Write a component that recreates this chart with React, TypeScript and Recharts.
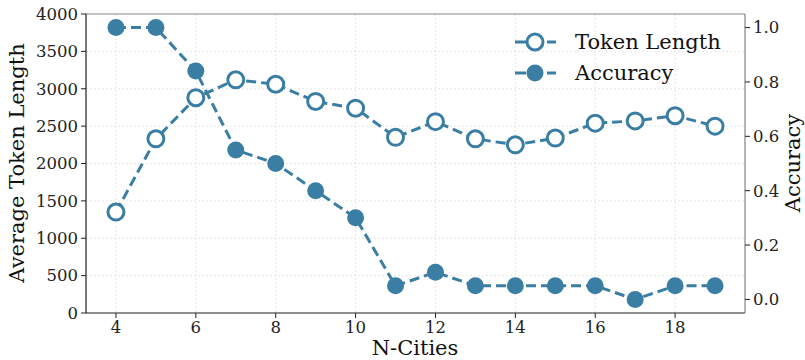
import React from 'react';
import { LineChart, Line, XAxis, YAxis, CartesianGrid, Legend, ReferenceLine } from 'recharts';

const nCities = [4, 5, 6, 7, 8, 9, 10, 11, 12, 13, 14, 15, 16, 17, 18, 19];
const tokenLength = [1350, 2330, 2880, 3120, 3060, 2830, 2740, 2350, 2560, 2330, 2250, 2340, 2540, 2570, 2640, 2500];
const accuracy = [1.0, 1.0, 0.84, 0.55, 0.5, 0.4, 0.3, 0.05, 0.1, 0.05, 0.05, 0.05, 0.05, 0.0, 0.05, 0.05];
const xTicks = [4, 6, 8, 10, 12, 14, 16, 18];
const leftTicks = [0, 500, 1000, 1500, 2000, 2500, 3000, 3500, 4000];
const rightTicks = [0, 0.2, 0.4, 0.6, 0.8, 1.0];

const data = nCities.map((n, i) => ({ n, tokens: tokenLength[i], acc: accuracy[i] }));

const COLOR = '#3b7ea4';
const FONT = 'DejaVu Serif';

const OpenDot = (props: any) => {
  const { cx, cy } = props;
  if (cx == null || cy == null) return null;
  return <circle cx={cx} cy={cy} r={8} fill="#ffffff" stroke={COLOR} strokeWidth={3} />;
};
const FilledDot = (props: any) => {
  const { cx, cy } = props;
  if (cx == null || cy == null) return null;
  return <circle cx={cx} cy={cy} r={8.5} fill={COLOR} stroke="none" />;
};

const legendItems = [
  { label: 'Token Length', filled: false },
  { label: 'Accuracy', filled: true },
];

const LegendContent = () => (
  <div style={{ fontFamily: FONT, fontSize: 21, color: '#111' }}>
    {legendItems.map((it) => (
      <div key={it.label} style={{ display: 'flex', alignItems: 'center', height: 31 }}>
        <svg width={44} height={22} style={{ marginRight: 17 }}>
          <line x1={1} y1={11} x2={42} y2={11} stroke={COLOR} strokeWidth={3} strokeDasharray="11 5" />
          {it.filled ? (
            <circle cx={21} cy={11} r={8.5} fill={COLOR} />
          ) : (
            <circle cx={21} cy={11} r={8} fill="#fff" stroke={COLOR} strokeWidth={3} />
          )}
        </svg>
        <span>{it.label}</span>
      </div>
    ))}
  </div>
);

const tickStyle = { fontFamily: FONT, fontSize: 16.5, fill: '#222' };

export default function App() {
  return (
    <div style={{ position: 'absolute', left: 0, top: 0, width: 805, height: 360, background: '#fff' }}>
      <LineChart width={805} height={360} data={data} margin={{ top: 14, right: 0, bottom: 0, left: 0 }}>
        <CartesianGrid yAxisId="left" stroke="#e2e2e2" strokeDasharray="2 2" strokeWidth={0.8} horizontal vertical />
        <XAxis
          dataKey="n"
          type="number"
          domain={[3.25, 19.75]}
          ticks={xTicks}
          allowDataOverflow
          tick={tickStyle}
          tickLine={{ stroke: '#222' }}
          axisLine={{ stroke: '#222', strokeWidth: 1.2 }}
          tickSize={5}
          tickMargin={3}
          height={47}
          label={{
            content: () => (
              <text x={415} y={355} textAnchor="middle" fontFamily={FONT} fontSize={21} fill="#111">N-Cities</text>
            ),
          }}
        />
        <YAxis
          yAxisId="left"
          domain={[0, 4000]}
          ticks={leftTicks}
          width={86}
          tick={tickStyle}
          tickLine={{ stroke: '#222' }}
          axisLine={{ stroke: '#222', strokeWidth: 1.2 }}
          tickSize={5}
          tickMargin={3}
          interval={0}
          label={{
            content: () => (
              <text x={24} y={163} transform="rotate(-90, 24, 163)" textAnchor="middle" fontFamily={FONT} fontSize={21} fill="#111">Average Token Length</text>
            ),
          }}
        />
        <YAxis
          yAxisId="right"
          orientation="right"
          domain={[-0.05, 1.05]}
          ticks={rightTicks}
          allowDataOverflow
          width={60}
          tick={tickStyle}
          tickFormatter={(v: number) => v.toFixed(1)}
          tickLine={{ stroke: '#222' }}
          axisLine={{ stroke: '#888', strokeWidth: 1.2 }}
          tickSize={5}
          tickMargin={3}
          interval={0}
          label={{
            content: () => (
              <text x={800} y={163} transform="rotate(-90, 800, 163)" textAnchor="middle" fontFamily={FONT} fontSize={21} fill="#111">Accuracy</text>
            ),
          }}
        />
        <ReferenceLine yAxisId="left" y={4000} stroke="#888" strokeWidth={1.2} />
        <Line
          yAxisId="left"
          type="linear"
          dataKey="tokens"
          name="Token Length"
          stroke={COLOR}
          strokeWidth={3}
          strokeDasharray="10 5"
          dot={<OpenDot />}
          activeDot={false}
          isAnimationActive={false}
        />
        <Line
          yAxisId="right"
          type="linear"
          dataKey="acc"
          name="Accuracy"
          stroke={COLOR}
          strokeWidth={3}
          strokeDasharray="10 5"
          dot={<FilledDot />}
          activeDot={false}
          isAnimationActive={false}
        />
        <Legend
          layout="horizontal"
          verticalAlign="middle"
          align="center"
          content={<LegendContent />}
          wrapperStyle={{ top: 26, left: 514, width: 240, height: 70 }}
        />
      </LineChart>
    </div>
  );
}
